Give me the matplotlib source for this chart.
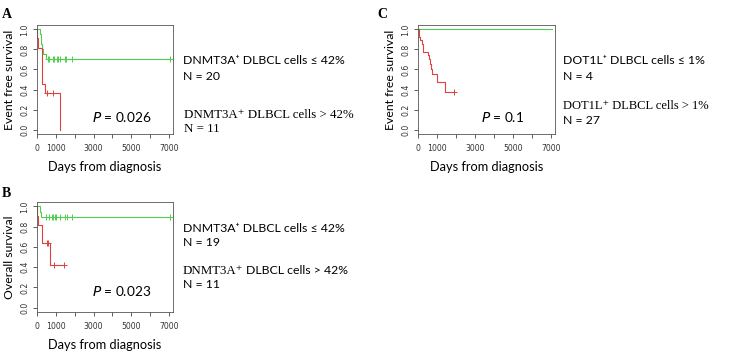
import matplotlib
matplotlib.use('Agg')
import matplotlib.pyplot as plt

# ---- data ----
# panel A: event free survival, DNMT3A
a_green_t = [0, 180, 200, 230, 260, 320, 460, 7060]
a_green_s = [1.0, 0.95, 0.90, 0.85, 0.80, 0.75, 0.70, 0.70]
a_green_cens = [560, 620, 860, 910, 1040, 1140, 1210, 1500, 1550, 1850, 7060]
a_green_cens_s = 0.70
a_red_t = [0, 20, 50, 250, 450, 1230]
a_red_s = [1.0, 0.909, 0.818, 0.455, 0.364, 0.0]
a_red_cens = [535, 875]
a_red_cens_s = 0.364

# panel B: overall survival, DNMT3A
b_green_t = [0, 160, 220, 7060]
b_green_s = [1.0, 0.947, 0.895, 0.895]
b_green_cens = [500, 625, 770, 855, 945, 1035, 1210, 1480, 1570, 1840, 7060]
b_green_cens_s = 0.895
b_red_t = [0, 20, 50, 240, 260, 680, 1430]
b_red_s = [1.0, 0.909, 0.818, 0.727, 0.636, 0.424, 0.424]
b_red_cens = [545, 585, 880, 1430]
b_red_cens_s = [0.636, 0.636, 0.424, 0.424]

# panel C: event free survival, DOT1L
c_green_t = [0, 7060]
c_green_s = [1.0, 1.0]
c_red_t = [0, 38, 128, 200, 272, 540, 595, 650, 700, 755, 990, 1440, 1890]
c_red_s = [1.0, 0.926, 0.889, 0.852, 0.778, 0.741, 0.704, 0.654, 0.605, 0.55, 0.48, 0.38, 0.38]

xticks = [0, 1000, 2000, 3000, 4000, 5000, 6000, 7000]
xticklabels = ['0', '1000', '', '3000', '', '5000', '', '7000']
yticks = [0.0, 0.2, 0.4, 0.6, 0.8, 1.0]
yticklabels = ['0.0', '0.2', '0.4', '0.6', '0.8', '1.0']

GREEN = '#4fcf4f'
RED = '#e0413f'
SANS = ['Lato', 'DejaVu Sans']
SERIF = ['Liberation Serif', 'DejaVu Serif']
LABEL_FS = 8.8

W, H = 740, 356
fig = plt.figure(figsize=(W / 100, H / 100), dpi=100)


def px_axes(x0, y0, x1, y1):
    # pixel box (top-left origin) -> figure axes
    return fig.add_axes([x0 / W, 1 - y1 / H, (x1 - x0) / W, (y1 - y0) / H])


def style_axes(ax, ylabel):
    ax.set_xlim(0, 7220)
    ax.set_ylim(-0.043, 1.043)
    ax.set_xticks(xticks)
    ax.set_xticklabels(xticklabels, fontsize=5.6, family='DejaVu Sans', color='#333333')
    ax.set_yticks(yticks)
    ax.set_yticklabels(yticklabels, fontsize=5.6, family='DejaVu Sans', color='#333333',
                       rotation=90, va='center')
    ax.tick_params(length=3, width=0.6, color='#444444')
    ax.tick_params(axis='x', pad=4.5)
    ax.tick_params(axis='y', pad=2.5)
    for sp in ax.spines.values():
        sp.set_linewidth(0.6)
        sp.set_color('#555555')
    ax.set_xlabel('Days from diagnosis', fontsize=9.2, family=SANS, labelpad=5.5)
    ax.set_ylabel(ylabel, fontsize=8.8, family=SANS, labelpad=4)


def km(ax, t, s, color):
    ax.step(t, s, where='post', color=color, lw=0.8)


def cens(ax, t, s, color):
    if not isinstance(s, list):
        s = [s] * len(t)
    ax.plot(t, s, ls='none', marker='+', ms=5, mew=0.7, color=color)


def pval(ax, s, yfrac):
    ax.text(0.62, yfrac, s, transform=ax.transAxes, ha='center',
            va='center', fontsize=9.8, family=SANS)


# panel A
axA = px_axes(37, 25, 173, 134)
km(axA, a_green_t, a_green_s, GREEN)
cens(axA, a_green_cens, a_green_cens_s, GREEN)
km(axA, a_red_t, a_red_s, RED)
cens(axA, a_red_cens, a_red_cens_s, RED)
style_axes(axA, 'Event free survival')
pval(axA, '$\\it{P}$ = 0.026', 0.16)

# panel B
axB = px_axes(37, 202, 173, 312)
km(axB, b_green_t, b_green_s, GREEN)
cens(axB, b_green_cens, b_green_cens_s, GREEN)
km(axB, b_red_t, b_red_s, RED)
cens(axB, b_red_cens, b_red_cens_s, RED)
style_axes(axB, 'Overall survival')
pval(axB, '$\\it{P}$ = 0.023', 0.19)

# panel C
axC = px_axes(418, 25, 555, 134)
km(axC, c_green_t, c_green_s, GREEN)
km(axC, c_red_t, c_red_s, RED)
cens(axC, [1890], 0.38, RED)
style_axes(axC, 'Event free survival')
pval(axC, '$\\it{P}$ = 0.1', 0.16)

# panel letters
for lx, ly, lab in [(2, 14, 'A'), (2, 193, 'B'), (377, 14, 'C')]:
    fig.text(lx / W, 1 - ly / H, lab, fontsize=10, fontweight='bold',
             family=SERIF, va='center', ha='left')


def ftext(x, y, s, fam, fs=LABEL_FS):
    return fig.text(x / W, 1 - y / H, s, family=fam, fontsize=fs, va='center', ha='left')


# group labels
ftext(183, 60, 'DNMT3A⁺ DLBCL cells ≤ 42%', SANS)
ftext(183, 76, 'N = 20', SANS)
ftext(184, 115, 'DNMT3A⁺ DLBCL cells > 42%', SERIF, 9.3)
ftext(184, 129, 'N = 11', SERIF, 9.3)

ftext(183, 229, 'DNMT3A⁺ DLBCL cells ≤ 42%', SANS)
ftext(183, 243, 'N = 19', SANS)
t1 = fig.text(183 / W, 1 - 274 / H, 'DNMT3A⁺', family=SERIF, fontsize=9.3, va='baseline')
ftext(183, 284, 'N = 11', SANS)

ftext(563, 61, 'DOT1L⁺ DLBCL cells ≤ 1%', SANS)
ftext(563, 76, 'N = 4', SANS)
ftext(563, 106, 'DOT1L⁺ DLBCL cells > 1%', SERIF, 9.0)
ftext(563, 121, 'N = 27', SANS)

# continue the mixed-font label after the serif part
fig.canvas.draw()
bb = t1.get_window_extent()
fig.text((bb.x1 + 3) / W, 1 - 274 / H, 'DLBCL cells > 42%', family=SANS,
         fontsize=LABEL_FS, va='baseline')

fig.savefig('out.png', dpi=100)
